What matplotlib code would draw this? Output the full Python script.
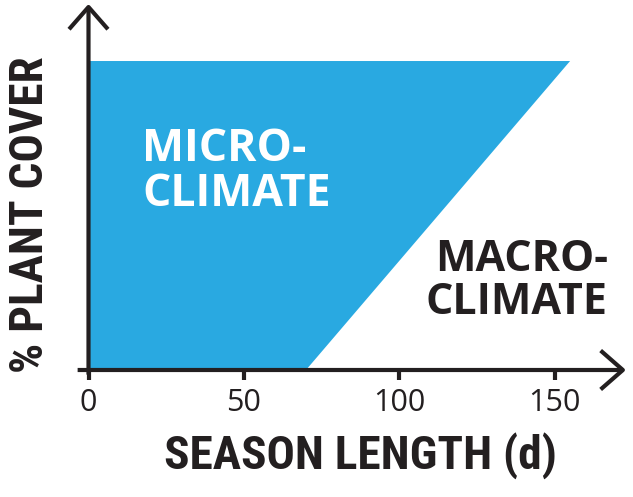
import matplotlib
matplotlib.use("Agg")
import matplotlib.pyplot as plt

# data
micro_x = [0, 70, 155, 0]
micro_y = [0, 0, 100, 100]
xticks = [0, 50, 100, 150]
xlabel = "SEASON LENGTH (d)"
ylabel = "% PLANT COVER"
micro_label = "MICRO-\nCLIMATE"
macro_label = "MACRO-\nCLIMATE"

BLUE = "#29a9e1"
INK = "#231f20"
COND = ["Roboto Condensed", "Liberation Sans Narrow", "DejaVu Sans"]

fig = plt.figure(figsize=(6.33, 4.97), dpi=100)
ax = fig.add_axes([88.5 / 633, 127 / 497, 528.2 / 633, 364.6 / 497])
ax.set_xlim(0, 170)
ax.set_ylim(0, 118)

ax.fill(micro_x, micro_y, color=BLUE, lw=0)

for s in ax.spines.values():
    s.set_visible(False)

arrow = dict(arrowstyle="->,head_length=0.8,head_width=0.7", mutation_scale=20,
             lw=3, color=INK, shrinkA=0, shrinkB=0, capstyle="butt")
ax.annotate("", xy=(173, 0), xytext=(-3.5, 0), arrowprops=arrow, annotation_clip=False)
ax.annotate("", xy=(0, 118.5), xytext=(0, -1.5), arrowprops=arrow, annotation_clip=False)

ax.set_xticks(xticks)
ax.set_yticks([])
ax.tick_params(axis="x", direction="out", length=7, width=3, color=INK, pad=6,
               labelsize=22, labelcolor=INK)
for t in ax.get_xticklabels():
    t.set_fontfamily("Open Sans")

ax.set_xlabel(xlabel, fontsize=34, fontweight="bold", family=COND, fontstretch="condensed",
              color=INK)
ax.set_ylabel(ylabel, fontsize=34, fontweight="bold", family=COND, fontstretch="condensed",
              color=INK)
ax.xaxis.set_label_coords((361 - 88.5) / 528.2, (370 - 432) / 364.6)
ax.yaxis.set_label_coords((52 - 88.5) / 528.2, (370 - 215) / 364.6)

fig.text(142 / 633, 1 - 127 / 497, micro_label, ha="left", va="top", color="white",
         fontsize=32, fontweight="bold", family="Open Sans", linespacing=1.0)
fig.text(608 / 633, 1 - 238 / 497, macro_label, ha="right", va="top", color=INK,
         fontsize=31, fontweight="bold", family="Open Sans", linespacing=1.0)

fig.savefig("out.png", dpi=100, facecolor="white")
